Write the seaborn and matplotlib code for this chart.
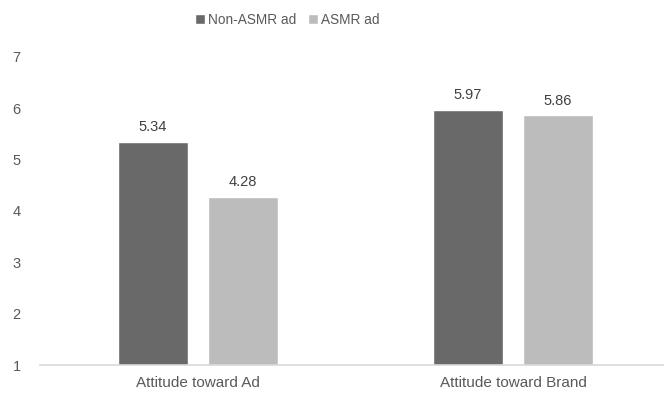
import matplotlib
matplotlib.use("Agg")
import matplotlib.pyplot as plt
import seaborn as sns
import pandas as pd

categories = ["Attitude toward Ad", "Attitude toward Brand"]
groups = ["Non-ASMR ad", "ASMR ad"]
non_asmr = [5.34, 5.97]
asmr = [4.28, 5.86]
yticks = [1, 2, 3, 4, 5, 6, 7]

df = pd.DataFrame({
    "category": categories * 2,
    "group": [groups[0]] * 2 + [groups[1]] * 2,
    "value": non_asmr + asmr,
})

sns.set_theme(style="white")
plt.rcParams["font.family"] = ["Liberation Sans", "DejaVu Sans"]

fig = plt.figure(figsize=(6.7, 3.93), dpi=100)
ax = fig.add_axes([0.0597, 0.0712, 0.93, 0.784])

palette = {groups[0]: "#696969", groups[1]: "#bcbcbc"}
sns.barplot(data=df, x="category", y="value", hue="group", order=categories,
            hue_order=groups, palette=palette, width=0.571, gap=0.222,
            ax=ax, saturation=1, legend=True, errorbar=None)

for c in ax.containers:
    for p, v in zip(c.patches, c.datavalues):
        ax.text(p.get_x() + p.get_width() / 2, v + 0.15,
                f"{v:.2f}", ha="center", va="bottom", fontsize=10.5, color="#404040")

ax.set_ylim(1, 7)
ax.set_xlim(-0.5, 1.476)
ax.set_yticks(yticks)
ax.set_yticklabels([str(t) for t in yticks])
ax.tick_params(axis="y", length=0, pad=14, labelsize=10.5, colors="#595959")
ax.tick_params(axis="x", length=0, pad=8, labelsize=11, colors="#595959")
ax.set_xlabel("")
ax.set_ylabel("")
for s in ["top", "right", "left"]:
    ax.spines[s].set_visible(False)
ax.spines["bottom"].set_color("#d9d9d9")
ax.spines["bottom"].set_linewidth(1.2)

handles, labels = ax.get_legend_handles_labels()
if ax.get_legend() is not None:
    ax.get_legend().remove()
leg = fig.legend(handles, labels, loc="center left", bbox_to_anchor=(195 / 670, 1 - 20 / 393),
                 ncol=2, frameon=False, borderaxespad=0, borderpad=0,
                 prop={"family": "Liberation Sans", "size": 9.8},
                 handlelength=0.7, handleheight=0.7, handletextpad=0.25, columnspacing=0.9)
for t in leg.get_texts():
    t.set_color("#595959")

fig.savefig("out.png", dpi=100)
